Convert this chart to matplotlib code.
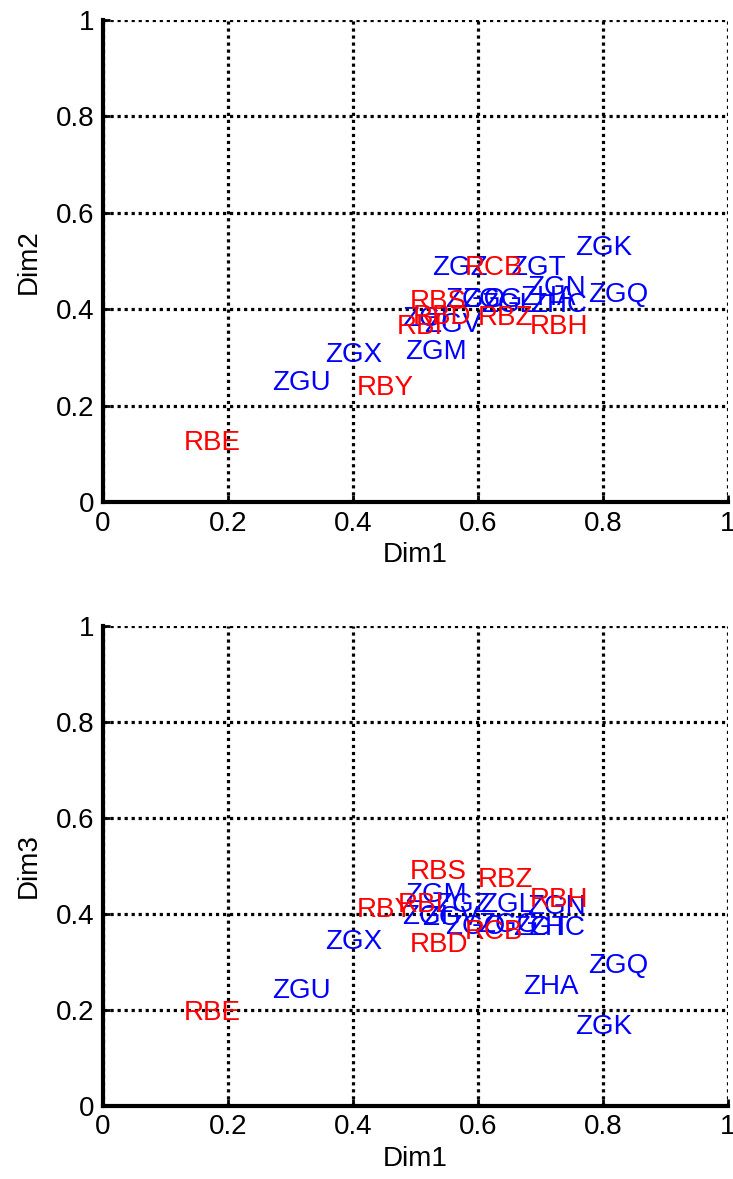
import numpy as np
import matplotlib.pyplot as plt

plt.rcParams['font.family'] = ['Liberation Sans', 'DejaVu Sans']

# station names and their colour group
names = ['ZGK', 'ZGQ', 'ZGT', 'ZGZ', 'ZGN', 'ZHA', 'ZHC', 'ZGO', 'ZGG', 'ZGL',
         'ZGI', 'ZGV', 'ZGM', 'ZGX', 'ZGU',
         'RCB', 'RBS', 'RBD', 'RBZ', 'RBH', 'RBI', 'RBY', 'RBE']
colors = ['b'] * 15 + ['r'] * 8

dim1 = [0.755, 0.776, 0.651, 0.526, 0.678, 0.667, 0.683, 0.547, 0.575, 0.605,
        0.478, 0.514, 0.483, 0.355, 0.270,
        0.579, 0.491, 0.496, 0.600, 0.683, 0.470, 0.406, 0.130]
dim2 = [0.527, 0.429, 0.485, 0.485, 0.444, 0.423, 0.410, 0.419, 0.419, 0.410,
        0.380, 0.367, 0.311, 0.305, 0.247,
        0.485, 0.415, 0.384, 0.382, 0.363, 0.363, 0.237, 0.122]
# third dimension, same order
dim1b = [0.755, 0.776, 0.656, 0.531, 0.678, 0.672, 0.680, 0.547, 0.600, 0.603,
         0.478, 0.510, 0.483, 0.355, 0.270,
         0.579, 0.491, 0.491, 0.600, 0.683, 0.472, 0.406, 0.130]
dim3 = [0.164, 0.292, 0.371, 0.419, 0.415, 0.248, 0.371, 0.373, 0.377, 0.419,
        0.394, 0.392, 0.440, 0.342, 0.240,
        0.363, 0.488, 0.335, 0.471, 0.429, 0.419, 0.408, 0.194]

ticks = [0, 0.2, 0.4, 0.6, 0.8, 1]
tick_labels = ['0', '0.2', '0.4', '0.6', '0.8', '1']

fig = plt.figure(figsize=(7.33, 11.79), dpi=100)
ax1 = fig.add_axes([0.1405, 0.574, 0.8525, 0.409])
ax2 = fig.add_axes([0.1405, 0.0619, 0.8525, 0.4072])


def draw(ax, xs, ys, ylabel):
    for n, c, x, y in zip(names, colors, xs, ys):
        ax.text(x, y, n, color=c, fontsize=20, ha='left', va='center')
    ax.set_xlim(0, 1)
    ax.set_ylim(0, 1)
    ax.set_xticks(ticks)
    ax.set_yticks(ticks)
    ax.set_xticklabels(tick_labels)
    ax.set_yticklabels(tick_labels)
    ax.tick_params(labelsize=20, direction='in', length=5, width=2, pad=6)
    ax.grid(True, color='k', linestyle=(0, (1, 1.2)), linewidth=2.3)
    ax.set_axisbelow(True)
    for s in ['top', 'right']:
        ax.spines[s].set_visible(False)
    for s in ['left', 'bottom']:
        ax.spines[s].set_linewidth(3)
    ax.set_xlabel('Dim1', fontsize=20, labelpad=4)
    ax.set_ylabel(ylabel, fontsize=20, labelpad=10)


draw(ax1, dim1, dim2, 'Dim2')
draw(ax2, dim1b, dim3, 'Dim3')

fig.savefig('out.png', dpi=100)
